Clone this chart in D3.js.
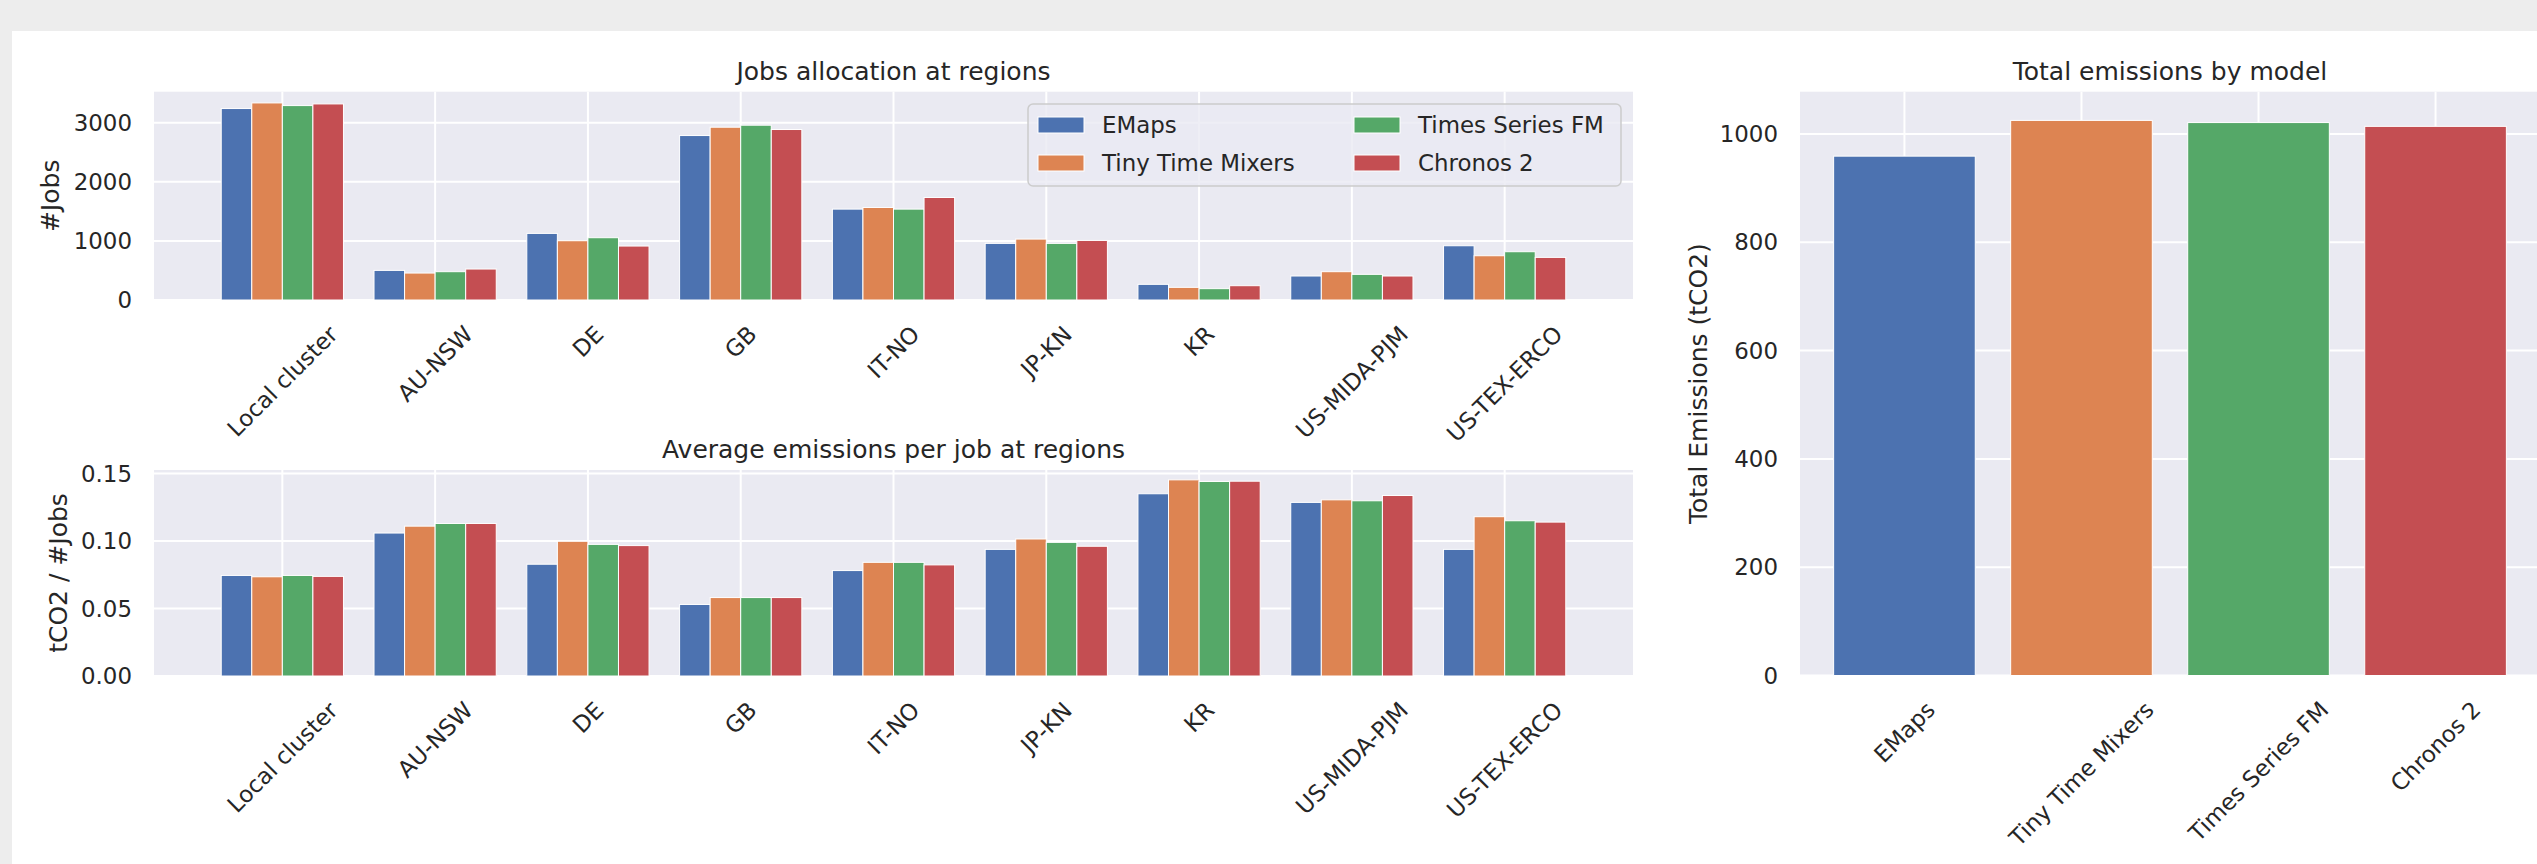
<!DOCTYPE html>
<html>
<head>
<meta charset="utf-8">
<script src="https://cdn.jsdelivr.net/npm/d3@7"></script>
<style>
  html, body { margin: 0; padding: 0; background: #ededed; }
  svg { display: block; }
  text { font-family: "DejaVu Sans", sans-serif; fill: #262626; }
</style>
</head>
<body>
<svg id="fig" width="2537" height="864"></svg>
<script>
// ---- data ----
const regions = ["Local cluster", "AU-NSW", "DE", "GB", "IT-NO", "JP-KN", "KR", "US-MIDA-PJM", "US-TEX-ERCO"];
const models = ["EMaps", "Tiny Time Mixers", "Times Series FM", "Chronos 2"];
const modelColors = ["#4C72B0", "#DD8452", "#55A868", "#C44E52"];

// jobs allocated per region, one array per model
const jobsEMaps   = [3240, 501, 1127, 2783, 1538, 958, 265, 406, 918];
const jobsTTM     = [3335, 456, 1003, 2924, 1566, 1031, 214, 479, 749];
const jobsTSFM    = [3290, 479, 1054, 2958, 1538, 958, 192, 434, 817];
const jobsChronos = [3318, 524, 913, 2885, 1735, 1008, 242, 406, 721];

// average emissions per job (tCO2 / job) per region
const emisEMaps   = [0.0745, 0.1059, 0.0828, 0.0530, 0.0781, 0.0938, 0.1350, 0.1286, 0.0938];
const emisTTM     = [0.0735, 0.1110, 0.0998, 0.0581, 0.0842, 0.1015, 0.1453, 0.1305, 0.1180];
const emisTSFM    = [0.0745, 0.1130, 0.0975, 0.0581, 0.0842, 0.0990, 0.1441, 0.1298, 0.1150];
const emisChronos = [0.0738, 0.1130, 0.0966, 0.0581, 0.0823, 0.0961, 0.1443, 0.1337, 0.1140];

// total emissions per model (tCO2)
const totalEmissions = [959, 1025, 1021, 1014];

const jobsTicks  = [0, 1000, 2000, 3000];
const emisTicks  = [0, 0.05, 0.10, 0.15];
const totalTicks = [0, 200, 400, 600, 800, 1000];

const jobsSeries = [jobsEMaps, jobsTTM, jobsTSFM, jobsChronos];
const emisSeries = [emisEMaps, emisTTM, emisTSFM, emisChronos];

// ---- layout ----
const svg = d3.select("#fig");
svg.append("rect").attr("x", 12).attr("y", 31).attr("width", 2537).attr("height", 864).attr("fill", "#ffffff");

const TICK_FS = 22.9, LABEL_FS = 25;
const BG = "#EAEAF2";

const barW = 0.2;
const nReg = regions.length;
const xMargin = 0.05 * (nReg - 1 + 4 * barW);
const xLeft = d3.scaleLinear()
  .domain([-2 * barW - xMargin, nReg - 1 + 2 * barW + xMargin])
  .range([154, 1633]);

function rotatedLabel(g, text, tx, axisY) {
  const t = g.append("text")
    .attr("text-anchor", "middle")
    .attr("dy", "0.35em")
    .style("font-size", TICK_FS + "px")
    .text(text);
  const w = t.node().getComputedTextLength();
  const off = 0.3536 * (w + TICK_FS);
  t.attr("transform", `translate(${tx},${axisY + 22 + off}) rotate(-45)`);
}

function drawPanel(opts) {
  const { x, y, top, bottom, left, right, ticks, fmt, cats, title, ylabel, ylabelX } = opts;
  const g = svg.append("g");
  g.append("rect").attr("x", left).attr("y", top)
    .attr("width", right - left).attr("height", bottom - top).attr("fill", BG);
  // horizontal grid
  g.selectAll(".hg").data(ticks).enter().append("line")
    .attr("x1", left).attr("x2", right)
    .attr("y1", d => y(d)).attr("y2", d => y(d))
    .attr("stroke", "#ffffff").attr("stroke-width", 2);
  // vertical grid at category centres
  g.selectAll(".vg").data(cats).enter().append("line")
    .attr("x1", (d, i) => x(i)).attr("x2", (d, i) => x(i))
    .attr("y1", top).attr("y2", bottom)
    .attr("stroke", "#ffffff").attr("stroke-width", 2);
  // y tick labels
  g.selectAll(".yt").data(ticks).enter().append("text")
    .attr("x", left - 22).attr("y", d => y(d)).attr("dy", "0.35em")
    .attr("text-anchor", "end").style("font-size", TICK_FS + "px")
    .text(d => fmt(d));
  // x tick labels
  cats.forEach((c, i) => rotatedLabel(g, c, x(i), bottom));
  // title
  g.append("text").attr("x", (left + right) / 2).attr("y", top - 12)
    .attr("text-anchor", "middle").style("font-size", LABEL_FS + "px").text(title);
  // y label
  g.append("text")
    .attr("transform", `translate(${ylabelX},${(top + bottom) / 2}) rotate(-90)`)
    .attr("text-anchor", "middle").attr("dy", "0.35em")
    .style("font-size", LABEL_FS + "px").text(ylabel);
  return g;
}

function groupedBars(g, x, y, series) {
  series.forEach((vals, j) => {
    const off = (j - 1.5) * barW;
    g.selectAll(null).data(vals).enter().append("rect")
      .attr("x", (d, i) => x(i + off - barW / 2))
      .attr("width", x(barW) - x(0))
      .attr("y", d => y(d))
      .attr("height", d => y(0) - y(d))
      .attr("fill", modelColors[j])
      .attr("stroke", "#ffffff").attr("stroke-width", 1);
  });
}

// ---- panel 1: jobs allocation ----
const yJobs = d3.scaleLinear().domain([0, 3525]).range([300, 91.7]);
const g1 = drawPanel({
  x: xLeft, y: yJobs, top: 91.7, bottom: 300, left: 154, right: 1633,
  ticks: jobsTicks, fmt: d3.format("d"), cats: regions,
  title: "Jobs allocation at regions", ylabel: "#Jobs", ylabelX: 50
});
groupedBars(g1, xLeft, yJobs, jobsSeries);

// legend
const lg = g1.append("g");
lg.append("rect").attr("x", 1028).attr("y", 104).attr("width", 593).attr("height", 82)
  .attr("rx", 5).attr("fill", BG).attr("fill-opacity", 0.8)
  .attr("stroke", "#cccccc").attr("stroke-width", 1.5);
const legCols = [1038, 1354];
const legRows = [125, 163];
models.forEach((m, k) => {
  const cx = legCols[Math.floor(k / 2)], cy = legRows[k % 2];
  lg.append("rect").attr("x", cx).attr("y", cy - 8).attr("width", 46).attr("height", 16)
    .attr("fill", modelColors[k]).attr("stroke", "#ffffff").attr("stroke-width", 1);
  lg.append("text").attr("x", cx + 46 + 18).attr("y", cy).attr("dy", "0.35em")
    .style("font-size", TICK_FS + "px").text(m);
});

// ---- panel 2: average emissions per job ----
const yEmis = d3.scaleLinear().domain([0, 0.1526]).range([676, 470]);
const g2 = drawPanel({
  x: xLeft, y: yEmis, top: 470, bottom: 676, left: 154, right: 1633,
  ticks: emisTicks, fmt: d3.format(".2f"), cats: regions,
  title: "Average emissions per job at regions", ylabel: "tCO2 / #Jobs", ylabelX: 58
});
groupedBars(g2, xLeft, yEmis, emisSeries);

// ---- panel 3: total emissions by model ----
const xTot = d3.scaleLinear().domain([-0.59, 3.59]).range([1800, 2540]);
const yTot = d3.scaleLinear().domain([0, 1078]).range([675.5, 91.7]);
const g3 = drawPanel({
  x: xTot, y: yTot, top: 91.7, bottom: 675.5, left: 1800, right: 2540,
  ticks: totalTicks, fmt: d3.format("d"), cats: models,
  title: "Total emissions by model", ylabel: "Total Emissions (tCO2)", ylabelX: 1698
});
g3.selectAll(null).data(totalEmissions).enter().append("rect")
  .attr("x", (d, i) => xTot(i - 0.4))
  .attr("width", xTot(0.8) - xTot(0))
  .attr("y", d => yTot(d))
  .attr("height", d => yTot(0) - yTot(d))
  .attr("fill", (d, i) => modelColors[i])
  .attr("stroke", "#ffffff").attr("stroke-width", 1);
</script>
</body>
</html>
